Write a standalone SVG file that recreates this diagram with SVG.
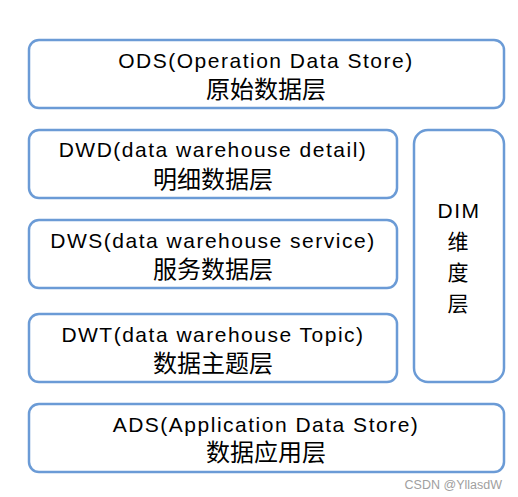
<svg xmlns="http://www.w3.org/2000/svg" width="518" height="497" viewBox="0 0 518 497">
<style>
.box{fill:#fff;stroke:#6b9bd6;stroke-width:2.5}
.t{font-family:"Liberation Sans","Noto Sans CJK SC",sans-serif;font-size:21px;fill:#000;text-anchor:middle;letter-spacing:1.5px}
.c{font-family:"Noto Sans CJK SC",sans-serif;font-size:24px;fill:#000;text-anchor:middle}
.v{font-family:"Noto Sans CJK SC",sans-serif;font-size:21px;fill:#000;text-anchor:middle}
.wm{font-family:"Liberation Sans","Noto Sans CJK SC",sans-serif;font-size:12.5px;fill:#a0a0a0;text-anchor:end}
</style>
<rect width="518" height="497" fill="#fff"/>
<g id="ods"><rect class="box" x="29" y="40" width="475" height="68" rx="10"/>
<text class="t" x="266" y="68">ODS(Operation Data Store)</text><text class="c" x="266" y="98">原始数据层</text></g>
<g id="dwd"><rect class="box" x="29" y="130" width="368" height="68" rx="10"/>
<text class="t" x="213" y="157">DWD(data warehouse detail)</text><text class="c" x="213" y="188">明细数据层</text></g>
<g id="dws"><rect class="box" x="29" y="220" width="368" height="68" rx="10"/>
<text class="t" x="213" y="248">DWS(data warehouse service)</text><text class="c" x="213" y="278">服务数据层</text></g>
<g id="dwt"><rect class="box" x="29" y="314" width="368" height="68" rx="10"/>
<text class="t" x="213" y="342">DWT(data warehouse Topic)</text><text class="c" x="213" y="372">数据主题层</text></g>
<g id="dim"><rect class="box" x="414" y="130" width="90" height="252" rx="14"/>
<text class="t" x="459" y="218">DIM</text><text class="v" x="458" y="249">维</text><text class="v" x="458" y="280">度</text><text class="v" x="458" y="311">层</text></g>
<g id="ads"><rect class="box" x="29" y="404" width="475" height="68" rx="10"/>
<text class="t" x="266" y="432">ADS(Application Data Store)</text><text class="c" x="266" y="461">数据应用层</text></g>
<g id="connectors"></g>
<text class="wm" x="502" y="489">CSDN @YllasdW</text>
</svg>
